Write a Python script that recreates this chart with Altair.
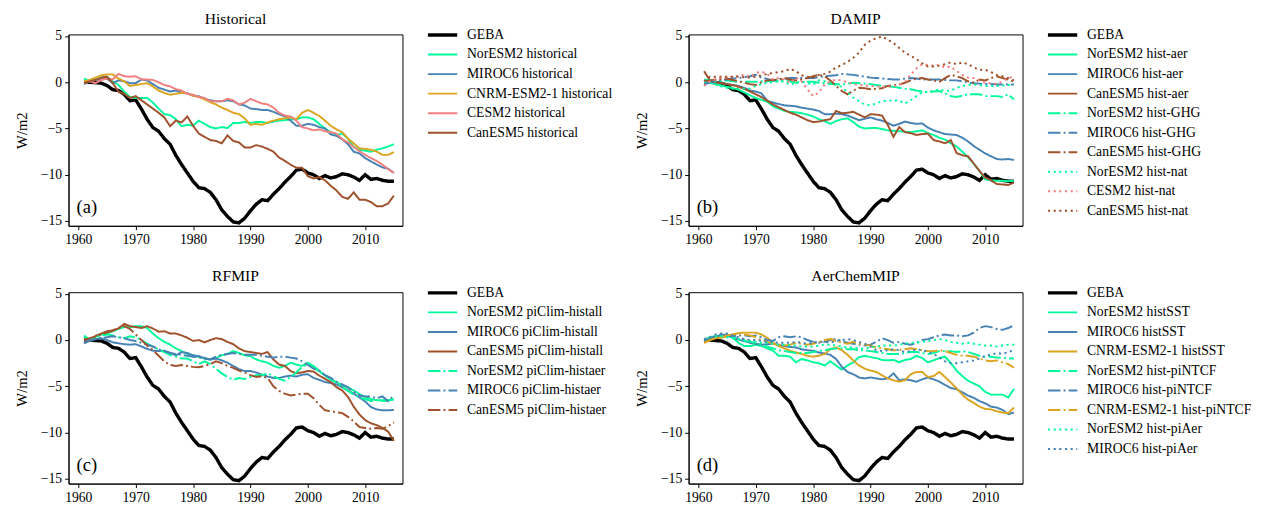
import altair as alt
import pandas as pd

years = list(range(1961, 2016))

geba = [0.0, 0.0, -0.05, -0.1, -0.35, -0.8, -0.9, -1.3, -2.0, -1.9,
        -2.9, -4.0, -4.9, -5.3, -6.1, -6.7, -7.9, -8.9, -9.8, -10.7,
        -11.4, -11.5, -11.9, -12.7, -13.8, -14.5, -15.1, -15.2, -14.7, -13.9,
        -13.2, -12.7, -12.8, -12.1, -11.5, -10.8, -10.2, -9.5, -9.4, -9.8,
        -10.0, -10.4, -10.1, -10.35, -10.2, -9.9, -10.0, -10.25, -10.6, -10.0,
        -10.5, -10.4, -10.6, -10.7, -10.7]

# (a) Historical
noresm_hist = [0.4, 0.1, 0.25, 0.5, 0.6, 0.1, -0.3, -1.0, -1.6, -1.7,
               -1.7, -1.7, -2.2, -2.85, -3.45, -3.55, -4.0, -4.75, -4.6, -4.7,
               -4.15, -4.5, -4.85, -5.0, -4.85, -4.95, -4.4, -4.4, -4.3, -4.4,
               -4.3, -4.3, -4.4, -4.25, -4.15, -4.1, -4.0, -4.0, -3.8, -3.8,
               -4.0, -4.5, -5.0, -5.4, -5.7, -5.55, -6.1, -7.0, -7.3, -7.4,
               -7.5, -7.3, -7.15, -6.95, -6.7]
miroc_hist = [-0.2, 0.1, 0.25, 0.3, 0.4, -0.1, 0.2, 0.1, -0.1, -0.1,
              0.3, 0.2, -0.2, -0.6, -0.8, -1.0, -0.9, -1.1, -1.2, -1.45,
              -1.5, -1.8, -1.95, -2.05, -2.05, -1.95, -2.05, -2.4, -2.5, -2.85,
              -2.9, -3.0, -3.0, -3.2, -3.45, -3.7, -4.15, -4.7, -4.7, -4.5,
              -4.6, -4.85, -5.0, -5.65, -5.8, -6.15, -6.7, -7.5, -7.7, -8.2,
              -8.55, -8.9, -9.2, -9.35, -9.8]
cnrm_hist = [0.1, 0.25, 0.5, 0.75, 0.85, 0.85, 0.4, 0.1, -0.4, -0.3,
             -0.2, -0.1, -0.45, -0.9, -1.15, -1.35, -1.25, -1.15, -1.2, -1.45,
             -1.6, -1.85, -2.15, -2.4, -2.75, -3.0, -3.3, -3.45, -3.9, -4.6,
             -4.5, -4.6, -4.35, -4.15, -4.0, -3.9, -3.8, -4.0, -3.3, -3.0,
             -3.3, -3.65, -4.15, -4.7, -5.1, -5.4, -6.1, -6.6, -7.15, -7.2,
             -7.3, -7.5, -7.85, -7.85, -7.55]
cesm_hist = [-0.1, 0.1, -0.1, 0.25, 0.4, 0.3, 0.9, 0.65, 0.6, 0.65,
             0.3, 0.3, 0.25, 0.0, -0.3, -0.45, -0.75, -0.9, -1.25, -1.35,
             -1.6, -1.7, -2.05, -2.05, -2.05, -1.8, -1.95, -2.4, -2.2, -1.8,
             -2.05, -2.3, -2.4, -2.75, -3.3, -3.6, -3.7, -4.15, -4.85, -5.0,
             -5.2, -5.1, -5.3, -5.4, -5.55, -6.15, -6.5, -7.0, -7.45, -7.85,
             -8.2, -8.5, -8.9, -9.4, -9.8]
canesm_hist = [-0.1, 0.1, 0.25, 0.5, 0.6, -0.1, -1.0, -1.25, -1.7, -1.5,
               -1.95, -2.4, -2.85, -3.3, -3.8, -4.75, -4.15, -4.35, -3.7, -4.7,
               -5.55, -5.9, -6.25, -6.35, -6.6, -5.75, -6.35, -6.5, -7.05, -7.05,
               -6.8, -6.95, -7.2, -7.5, -8.15, -8.5, -8.9, -9.25, -9.25, -10.15,
               -10.4, -10.25, -10.6, -11.2, -11.7, -12.4, -12.6, -11.9, -12.7, -12.7,
               -12.95, -13.4, -13.4, -13.1, -12.25]

# (b) DAMIP
noresm_aer = [0.1, 0.0, -0.2, -0.35, -0.5, -0.65, -0.8, -1.1, -1.4, -1.7,
              -1.9, -2.1, -2.6, -2.85, -3.1, -3.2, -3.25, -3.35, -3.5, -3.7,
              -4.0, -4.2, -4.5, -4.2, -4.0, -3.9, -4.3, -4.8, -5.0, -4.95,
              -4.95, -5.05, -5.2, -5.25, -5.3, -5.35, -5.4, -5.3, -5.2, -5.5,
              -5.7, -6.0, -6.2, -6.6, -6.95, -7.5, -8.1, -8.8, -9.6, -10.5,
              -10.6, -10.65, -10.65, -10.7, -10.65]
miroc_aer = [-0.1, 0.0, 0.0, -0.1, -0.2, -0.3, -0.4, -0.6, -0.9, -1.0,
             -1.2, -2.0, -2.2, -2.35, -2.5, -2.55, -2.6, -2.75, -2.85, -2.95,
             -3.1, -3.45, -3.45, -3.4, -3.45, -3.6, -3.85, -4.1, -3.95, -3.8,
             -4.0, -4.15, -4.4, -4.7, -4.5, -4.25, -4.4, -4.5, -4.45, -4.9,
             -5.2, -5.4, -5.6, -5.65, -5.7, -6.0, -6.4, -6.9, -7.3, -7.7,
             -8.0, -8.3, -8.35, -8.3, -8.4]
canesm_aer = [1.2, 0.2, 0.0, -0.1, -0.2, -0.3, -0.5, -0.7, -1.0, -1.3,
              -1.6, -2.0, -2.4, -2.7, -3.0, -3.3, -3.5, -3.8, -4.1, -4.3,
              -4.25, -4.1, -4.0, -3.1, -3.35, -3.3, -3.2, -3.5, -3.8, -3.45,
              -3.5, -3.6, -4.6, -5.9, -4.85, -5.4, -5.5, -5.7, -5.6, -5.55,
              -6.25, -6.4, -6.6, -6.25, -7.65, -7.9, -8.0, -8.8, -9.6, -10.3,
              -10.6, -11.0, -11.05, -11.1, -10.85]
noresm_ghg = [0.3, 0.2, 0.1, 0.15, 0.2, 0.1, 0.05, 0.05, 0.05, 0.05,
              0.1, 0.1, 0.15, 0.2, 0.2, 0.1, -0.05, 0.0, 0.05, 0.05,
              -0.05, -0.1, -0.2, -0.2, -0.25, -0.15, -0.05, -0.1, -0.15, -0.2,
              -0.3, -0.4, -0.45, -0.5, -0.6, -0.7, -0.75, -0.9, -1.0, -1.1,
              -1.0, -0.95, -1.2, -1.5, -1.6, -1.45, -1.3, -1.3, -1.3, -1.5,
              -1.5, -1.5, -1.6, -1.3, -1.85]
miroc_ghg = [-0.25, 0.0, 0.2, 0.25, 0.3, 0.4, 0.45, 0.55, 0.65, 0.8,
             0.5, 0.35, 0.2, 0.3, 0.4, 0.45, 0.45, 0.45, 0.45, 0.45,
             0.55, 0.65, 0.7, 0.75, 0.9, 0.85, 0.8, 0.7, 0.6, 0.5,
             0.45, 0.4, 0.35, 0.3, 0.3, 0.4, 0.45, 0.4, 0.3, 0.3,
             0.3, 0.3, 0.25, 0.2, 0.2, 0.1, -0.05, -0.1, -0.15, -0.2,
             -0.2, -0.25, -0.25, -0.25, -0.25]
canesm_ghg = [0.1, 0.2, 0.3, 0.35, 0.4, 0.25, 0.1, -0.05, -0.2, -0.3,
              0.0, 0.2, 0.25, 0.3, 0.45, 0.3, 0.2, 0.3, 0.45, 0.65,
              0.8, 0.65, 0.2, -0.4, -0.95, -1.3, -0.9, -0.6, -0.65, -0.75,
              -0.7, -0.65, -0.4, -0.3, -0.25, -0.05, 0.2, 0.4, 0.45, 0.3,
              0.2, 0.05, 0.45, 0.8, 0.65, 0.45, 0.1, -0.05, 0.3, 0.2,
              0.45, 0.65, 0.45, 0.3, 0.05]
noresm_nat = [0.1, -0.1, -0.25, -0.45, -0.6, -0.7, -0.75, -0.7, -0.7, -0.4,
              -0.2, -0.05, 0.0, 0.1, 0.05, -0.25, -0.05, 0.1, -0.1, -0.25,
              0.2, 0.1, -0.05, -0.3, -0.5, -1.1, -1.65, -2.05, -2.4, -2.5,
              -2.3, -2.05, -2.0, -1.95, -2.0, -2.3, -1.95, -1.5, -1.1, -1.0,
              -0.95, -0.75, -0.95, -0.9, -0.6, -0.4, -0.3, -0.25, -0.3, -0.4,
              -0.4, -0.4, -0.35, -0.3, -0.3]
cesm_nat = [-0.4, 0.1, 0.3, 0.45, 0.5, 0.6, 0.7, 0.8, 0.6, 1.0,
            1.15, 0.9, 0.3, 0.45, 0.3, -0.05, 0.5, 0.1, -0.75, -1.5,
            -1.1, -0.25, 0.1, 0.3, 0.2, 0.0, -0.2, -0.3, -0.35, -0.4,
            -0.45, -0.45, -0.5, -0.4, -0.25, 0.05, 0.8, 1.5, 1.95, 1.85,
            1.8, 1.85, 1.6, 1.7, 1.2, 0.8, 0.5, 0.45, 0.2, -0.05,
            -0.1, -0.2, 0.1, 0.45, 0.6]
canesm_nat = [0.1, 0.6, 0.6, 0.6, 0.6, 0.6, 0.6, 0.55, 0.5, 0.6,
              0.75, 0.9, 1.0, 1.1, 1.2, 1.45, 1.2, 0.75, 0.6, 0.5,
              0.8, 0.9, 1.15, 1.6, 1.85, 2.2, 2.65, 3.2, 4.05, 4.5,
              4.75, 4.95, 4.6, 4.25, 3.7, 3.2, 2.85, 2.5, 2.05, 1.7,
              1.7, 1.8, 1.95, 2.15, 1.95, 2.15, 1.95, 1.6, 1.35, 1.35,
              1.1, 0.8, 0.65, 0.45, 0.2]

# (c) RFMIP
noresm_histall = [0.5, 0.0, 0.35, 0.6, 0.7, 0.95, 1.2, 1.4, 1.4, 1.5,
                  1.5, 1.3, 0.7, 0.2, -0.2, -0.5, -0.9, -1.2, -1.5, -1.65,
                  -1.85, -2.0, -2.1, -1.95, -1.65, -1.5, -1.2, -1.4, -1.65, -1.75,
                  -2.1, -2.3, -2.45, -2.8, -3.0, -2.8, -2.45, -2.65, -2.8, -2.45,
                  -2.8, -3.35, -3.85, -4.3, -4.55, -4.9, -5.15, -5.45, -5.85, -6.15,
                  -6.4, -6.5, -6.5, -6.55, -6.4]
miroc_histall = [-0.35, -0.1, 0.1, 0.2, 0.0, -0.25, -0.35, -0.45, -0.5, -0.45,
                 -0.7, -0.95, -1.15, -1.2, -1.15, -1.4, -1.65, -1.3, -1.4, -1.65,
                 -1.75, -1.95, -2.1, -2.0, -2.2, -2.45, -2.8, -3.15, -3.35, -3.35,
                 -3.5, -3.75, -3.95, -4.1, -4.1, -3.95, -3.85, -3.95, -3.75, -3.7,
                 -4.1, -4.3, -4.55, -4.65, -4.8, -5.1, -5.45, -5.8, -6.2, -6.65,
                 -7.25, -7.5, -7.6, -7.6, -7.55]
canesm_histall = [0.0, -0.1, 0.45, 0.7, 0.95, 1.05, 1.25, 1.75, 1.5, 1.4,
                  1.3, 1.5, 1.25, 0.9, 0.95, 0.7, 0.7, 0.5, 0.25, -0.1,
                  0.0, -0.25, 0.0, 0.2, 0.1, -0.2, -0.45, -0.9, -1.2, -1.3,
                  -1.4, -1.5, -1.3, -2.1, -2.65, -2.8, -3.35, -3.6, -3.5, -3.35,
                  -3.4, -3.85, -4.2, -4.55, -5.1, -5.45, -6.15, -7.2, -8.05, -8.65,
                  -9.0, -9.2, -9.5, -9.9, -10.9]
noresm_histaer = [0.4, 0.0, 0.3, 0.5, 0.6, 0.5, 0.3, 0.2, 0.4, 0.3,
                  0.0, -0.4, -0.7, -1.0, -1.3, -1.6, -1.8, -2.0, -2.0, -2.3,
                  -2.6, -2.3, -2.6, -3.1, -3.6, -4.0, -4.3, -4.1, -4.2, -4.0,
                  -3.8, -3.8, -3.6, -3.9, -4.2, -4.4, -4.0, -3.5, -2.9, -2.6,
                  -3.0, -3.4, -3.8, -4.2, -4.6, -5.1, -5.5, -5.9, -6.2, -6.4,
                  -6.6, -6.5, -6.6, -6.5, -6.4]
miroc_histaer = [-0.3, 0.0, 0.1, 0.2, 0.3, 0.4, 0.3, 0.2, 0.0, -0.1,
                 -0.3, -0.5, -0.7, -1.0, -1.2, -1.4, -1.5, -1.6, -1.7, -1.8,
                 -1.85, -2.0, -2.1, -1.8, -1.6, -1.5, -1.4, -1.5, -1.6, -1.6,
                 -1.6, -1.7, -1.8, -1.9, -1.8, -1.8, -1.9, -2.0, -2.3, -2.7,
                 -3.1, -3.3, -3.8, -4.1, -4.5, -4.8, -5.1, -5.6, -6.0, -6.1,
                 -6.1, -6.3, -6.1, -6.6, -6.0]
canesm_histaer = [0.0, 0.2, 0.4, 0.6, 0.8, 1.0, 1.3, 1.5, 1.2, 0.6,
                  0.0, -0.6, -1.1, -1.7, -2.3, -2.7, -2.8, -2.7, -2.8, -2.9,
                  -2.95, -2.8, -2.6, -2.3, -2.5, -2.8, -3.0, -3.3, -3.5, -3.8,
                  -4.0, -3.9, -4.1, -5.0, -5.5, -5.8, -6.0, -5.9, -5.8, -5.8,
                  -6.3, -7.0, -7.6, -7.7, -7.8, -7.9, -8.3, -8.8, -9.4, -9.5,
                  -9.6, -9.5, -9.6, -9.3, -8.9]

# (d) AerChemMIP
noresm_sst = [0.0, 0.2, 0.4, 0.5, 0.6, 0.25, -0.3, -0.65, -0.65, -0.5,
              -0.65, -0.9, -1.15, -1.7, -1.7, -1.8, -2.4, -2.05, -2.2, -2.4,
              -2.5, -2.75, -2.3, -2.75, -3.2, -2.75, -2.4, -1.85, -1.7, -1.85,
              -1.95, -2.15, -2.2, -2.15, -2.4, -2.15, -2.05, -1.7, -1.95, -2.4,
              -2.2, -1.95, -1.8, -2.5, -3.3, -3.9, -4.4, -4.7, -5.0, -5.6,
              -5.9, -5.9, -5.9, -6.2, -5.3]
miroc_sst = [0.0, 0.2, 0.3, 0.6, 0.5, 0.25, 0.05, -0.1, -0.3, -0.4,
             -0.5, -0.45, -0.4, -0.5, -0.65, -0.75, -0.8, -1.0, -1.1, -1.15,
             -1.35, -1.45, -1.6, -2.05, -2.9, -3.45, -3.7, -4.05, -4.15, -4.05,
             -4.15, -4.25, -4.15, -3.6, -4.35, -4.25, -4.35, -4.5, -4.25, -4.05,
             -4.25, -4.5, -4.85, -5.2, -5.3, -5.65, -6.0, -6.25, -6.6, -6.85,
             -7.2, -7.3, -7.55, -8.0, -7.85]
cnrm_sst = [-0.3, 0.0, 0.2, 0.25, 0.4, 0.6, 0.75, 0.8, 0.8, 0.8,
            0.6, 0.25, -0.3, -0.65, -0.9, -1.15, -1.35, -1.5, -1.7, -1.8,
            -1.7, -1.5, -1.0, -0.8, -1.1, -1.6, -2.2, -2.75, -3.1, -3.3,
            -3.45, -3.8, -4.15, -4.35, -4.5, -4.35, -3.7, -3.45, -3.45, -4.0,
            -3.9, -3.45, -4.0, -4.6, -5.2, -5.9, -6.45, -6.8, -7.2, -7.45,
            -7.5, -7.7, -7.85, -7.9, -7.3]
noresm_pintcf = [0.0, 0.3, 0.4, 0.5, 0.45, 0.3, 0.1, -0.1, -0.2, -0.3,
                 -0.5, -0.7, -0.9, -1.1, -1.2, -1.3, -1.4, -1.4, -1.4, -1.3,
                 -1.2, -1.1, -1.0, -0.9, -0.9, -1.0, -1.0, -1.1, -1.1, -1.2,
                 -1.3, -1.4, -1.5, -1.5, -1.5, -1.4, -1.3, -1.3, -1.4, -1.5,
                 -1.4, -1.2, -1.2, -1.2, -1.3, -1.2, -1.3, -1.5, -1.7, -1.8,
                 -1.8, -1.9, -1.9, -2.0, -2.0]
miroc_pintcf = [-0.1, 0.2, 0.4, 0.55, 0.5, 0.4, 0.5, 0.5, 0.4, 0.5,
                0.3, 0.0, -0.1, 0.3, 0.4, 0.3, 0.4, 0.3, 0.0, -0.2,
                -0.3, -0.2, 0.0, 0.1, -0.1, -0.3, -0.4, -0.5, -0.6, -0.5,
                -0.2, 0.2, 0.0, -0.3, -0.2, -0.4, -0.5, -0.3, 0.0, 0.1,
                0.3, 0.5, 0.6, 0.5, 0.5, 0.4, 0.5, 0.8, 1.3, 1.5,
                1.4, 1.2, 1.1, 1.3, 1.6]
cnrm_pintcf = [-0.3, 0.0, 0.2, 0.3, 0.5, 0.6, 0.7, 0.6, 0.5, 0.3,
               0.0, -0.2, -0.4, -0.5, -0.6, -0.5, -0.3, -0.4, -0.5, -0.4,
               -0.2, 0.0, 0.1, -0.1, -0.3, -0.4, -0.2, -0.4, -0.5, -0.6,
               -0.8, -0.9, -1.0, -1.1, -1.1, -1.0, -0.9, -1.0, -1.1, -1.2,
               -1.2, -1.1, -1.2, -1.4, -1.6, -1.7, -1.7, -1.8, -2.0, -2.2,
               -2.3, -2.2, -2.4, -2.6, -3.0]
noresm_piaer = [0.1, 0.3, 0.4, 0.4, 0.3, 0.2, 0.1, 0.0, -0.1, -0.2,
                -0.3, -0.3, -0.4, -0.5, -0.5, -0.6, -0.6, -0.7, -0.7, -0.7,
                -0.6, -0.5, -0.5, -0.6, -0.7, -0.8, -0.8, -0.9, -0.9, -0.8,
                -0.7, -0.6, -0.6, -0.6, -0.5, -0.4, -0.3, -0.3, -0.2, -0.1,
                0.0, 0.1, 0.0, -0.2, -0.3, -0.4, -0.3, -0.4, -0.5, -0.6,
                -0.6, -0.7, -0.6, -0.5, -0.5]
miroc_piaer = [0.1, 0.3, 0.6, 0.7, 0.7, 0.5, 0.3, 0.1, 0.0, 0.0,
               -0.1, -0.2, -0.2, -0.3, -0.3, -0.3, -0.2, -0.3, -0.4, -0.3,
               -0.2, -0.2, -0.3, -0.1, 0.0, 0.1, 0.0, -0.2, -0.4, -0.7,
               -1.1, -1.2, -1.1, -1.0, -1.1, -1.3, -1.2, -1.0, -1.1, -1.3,
               -1.5, -1.9, -2.3, -2.5, -2.5, -2.4, -2.3, -2.2, -2.0, -1.7,
               -1.6, -1.4, -1.5, -1.3, -1.1]

FONT = "Liberation Serif"
GREEN = "#00fa9a"
BLUE = "#4682b4"
GOLD = "#daa520"
CORAL = "#f08080"
SIENNA = "#a0522d"
SOLID = [1, 0]
DASHDOT = [12.8, 3.2, 2, 3.2]
DOT = [2.2, 3.6]
W_OBS = 3.5
W_MOD = 2.0

panels = [
    ("Historical", "(a)", [
        ("GEBA", geba, "black", SOLID, W_OBS),
        ("NorESM2 historical", noresm_hist, GREEN, SOLID, W_MOD),
        ("MIROC6 historical", miroc_hist, BLUE, SOLID, W_MOD),
        ("CNRM-ESM2-1 historical", cnrm_hist, GOLD, SOLID, W_MOD),
        ("CESM2 historical", cesm_hist, CORAL, SOLID, W_MOD),
        ("CanESM5 historical", canesm_hist, SIENNA, SOLID, W_MOD),
    ]),
    ("DAMIP", "(b)", [
        ("GEBA", geba, "black", SOLID, W_OBS),
        ("NorESM2 hist-aer", noresm_aer, GREEN, SOLID, W_MOD),
        ("MIROC6 hist-aer", miroc_aer, BLUE, SOLID, W_MOD),
        ("CanESM5 hist-aer", canesm_aer, SIENNA, SOLID, W_MOD),
        ("NorESM2 hist-GHG", noresm_ghg, GREEN, DASHDOT, W_MOD),
        ("MIROC6 hist-GHG", miroc_ghg, BLUE, DASHDOT, W_MOD),
        ("CanESM5 hist-GHG", canesm_ghg, SIENNA, DASHDOT, W_MOD),
        ("NorESM2 hist-nat", noresm_nat, GREEN, DOT, W_MOD),
        ("CESM2 hist-nat", cesm_nat, CORAL, DOT, W_MOD),
        ("CanESM5 hist-nat", canesm_nat, SIENNA, DOT, W_MOD),
    ]),
    ("RFMIP", "(c)", [
        ("GEBA", geba, "black", SOLID, W_OBS),
        ("NorESM2 piClim-histall", noresm_histall, GREEN, SOLID, W_MOD),
        ("MIROC6 piClim-histall", miroc_histall, BLUE, SOLID, W_MOD),
        ("CanESM5 piClim-histall", canesm_histall, SIENNA, SOLID, W_MOD),
        ("NorESM2 piClim-histaer", noresm_histaer, GREEN, DASHDOT, W_MOD),
        ("MIROC6 piClim-histaer", miroc_histaer, BLUE, DASHDOT, W_MOD),
        ("CanESM5 piClim-histaer", canesm_histaer, SIENNA, DASHDOT, W_MOD),
    ]),
    ("AerChemMIP", "(d)", [
        ("GEBA", geba, "black", SOLID, W_OBS),
        ("NorESM2 histSST", noresm_sst, GREEN, SOLID, W_MOD),
        ("MIROC6 histSST", miroc_sst, BLUE, SOLID, W_MOD),
        ("CNRM-ESM2-1 histSST", cnrm_sst, GOLD, SOLID, W_MOD),
        ("NorESM2 hist-piNTCF", noresm_pintcf, GREEN, DASHDOT, W_MOD),
        ("MIROC6 hist-piNTCF", miroc_pintcf, BLUE, DASHDOT, W_MOD),
        ("CNRM-ESM2-1 hist-piNTCF", cnrm_pintcf, GOLD, DASHDOT, W_MOD),
        ("NorESM2 hist-piAer", noresm_piaer, GREEN, DOT, W_MOD),
        ("MIROC6 hist-piAer", miroc_piaer, BLUE, DOT, W_MOD),
    ]),
]

PW, PH = 342, 196
X_DOMAIN = [1958.3, 2016.5]
Y_DOMAIN = [-15.52, 5.17]
TAG_X, TAG_Y = 1959.7, -13.5


def make_panel(title, tag, entries):
    rows = []
    for name, vals, *_ in entries:
        assert len(vals) == len(years), name
        for yr, v in zip(years, vals):
            rows.append({"year": yr, "value": v, "series": name})
    df = pd.DataFrame(rows)
    names = [e[0] for e in entries]
    legend = alt.Legend(title=None, orient="none", legendX=PW + 24, legendY=-9)
    lines = alt.Chart(df).mark_line(clip=True).encode(
        x=alt.X("year:Q", scale=alt.Scale(domain=X_DOMAIN, nice=False, zero=False),
                axis=alt.Axis(values=[1960, 1970, 1980, 1990, 2000, 2010], format="d", title=None)),
        y=alt.Y("value:Q", scale=alt.Scale(domain=Y_DOMAIN, nice=False, zero=False),
                axis=alt.Axis(values=[-15, -10, -5, 0, 5], title="W/m2", titlePadding=11,
                              labelExpr="replace(datum.label, '-', '\u2212')")),
        color=alt.Color("series:N", sort=names,
                        scale=alt.Scale(domain=names, range=[e[2] for e in entries]), legend=legend),
        strokeDash=alt.StrokeDash("series:N", sort=names,
                                  scale=alt.Scale(domain=names, range=[e[3] for e in entries]), legend=legend),
        strokeWidth=alt.StrokeWidth("series:N", sort=names,
                                    scale=alt.Scale(type="ordinal", domain=names, range=[e[4] for e in entries]),
                                    legend=legend),
    )
    tag_df = pd.DataFrame({"year": [TAG_X], "value": [TAG_Y], "label": [tag]})
    text = alt.Chart(tag_df).mark_text(align="left", baseline="middle", font=FONT, fontSize=19,
                                       color="black").encode(
        x="year:Q", y="value:Q", text="label:N")
    return alt.layer(lines, text).properties(
        width=PW, height=PH,
        title=alt.TitleParams(title, font=FONT, fontSize=16, fontWeight="normal", color="black",
                              offset=-1, frame="group"))


charts = [make_panel(*p) for p in panels]
chart = alt.concat(*charts, columns=2, spacing={"row": 21, "column": 21}).resolve_scale(
    color="independent", strokeDash="independent", strokeWidth="independent"
).resolve_legend(
    color="independent", strokeDash="independent", strokeWidth="independent"
).configure_view(
    stroke="black", strokeWidth=1
).configure_axis(
    labelFont=FONT, labelFontSize=14, labelColor="black", titleFont=FONT, titleFontSize=15,
    titleFontWeight="normal", titleColor="black", tickColor="black", domainColor="black",
    tickSize=4, labelPadding=3, grid=False
).configure_legend(
    labelFont=FONT, labelFontSize=14, labelColor="black", symbolType="stroke",
    symbolSize=900, labelOffset=8, rowPadding=0, clipHeight=19.3, padding=0, labelLimit=400
).properties(
    padding={"left": 6, "top": -4, "right": 0, "bottom": 0}
)

chart.save("out.html", embed_options={"renderer": "svg", "actions": False})
